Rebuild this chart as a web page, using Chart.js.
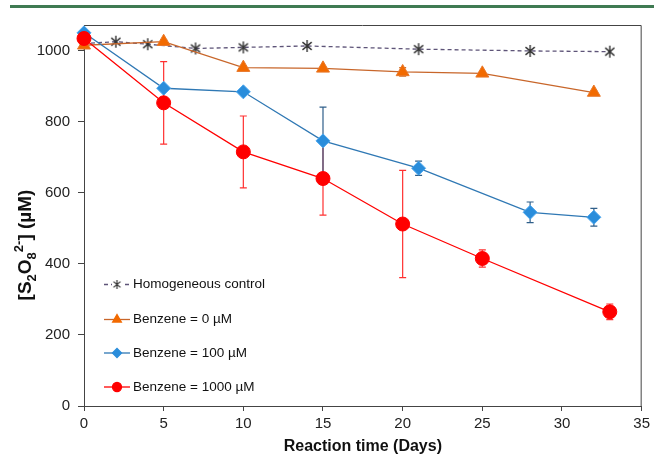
<!DOCTYPE html>
<html><head><meta charset="utf-8">
<script src="https://cdn.jsdelivr.net/npm/chart.js@4.4.1/dist/chart.umd.min.js"></script>
<style>
html,body{margin:0;padding:0;background:#fff;}
#wrap{position:relative;width:654px;height:460px;overflow:hidden;}
#bar{position:absolute;left:10px;top:5px;width:644px;height:3px;background:#3f7a52;}
canvas{position:absolute;left:0;top:0;}
</style></head><body>
<div id="wrap"><canvas id="c" width="654" height="460"></canvas><div id="bar"></div></div>
<script>
// ---- data ----
const controlDays = [0, 2, 4, 7, 10, 14, 21, 28, 33];
const controlValues = [1020, 1025, 1018, 1006, 1009, 1013, 1004, 999, 997];
const b0Days = [0, 5, 10, 15, 20, 25, 32];
const b0Values = [1015, 1025, 952, 950, 940, 936, 882];
const b0Errors = [0, 5, 4, 0, 12, 4, 4];
const b100Days = [0, 5, 10, 15, 21, 28, 32];
const b100Values = [1050, 894, 884, 746, 669, 545, 531];
const b100Errors = [0, 5, 5, 95, 20, 29, 25];
const b1000Days = [0, 5, 10, 15, 20, 25, 33];
const b1000Values = [1034, 853, 715, 640, 512, 415, 265];
const b1000Errors = [0, 116, 101, 103, 151, 24, 22];
const xTicks = [0, 5, 10, 15, 20, 25, 30, 35];
const yTicks = [0, 200, 400, 600, 800, 1000];
const seriesNames = ['Homogeneous control', 'Benzene = 0 µM', 'Benzene = 100 µM', 'Benzene = 1000 µM'];
const xTitle = 'Reaction time (Days)';

const FONT = "'Liberation Sans', Arial, sans-serif";
Chart.defaults.font.family = FONT;

function pts(xs, ys){ return xs.map((d,i)=>({x:d, y:ys[i]})); }

function asterisk(color, r, lw){
  const s = Math.ceil(r*2+4);
  const c = document.createElement('canvas'); c.width = s; c.height = s;
  const g = c.getContext('2d'); g.strokeStyle = color; g.lineWidth = lw;
  const cx = s/2, cy = s/2;
  g.beginPath();
  for (const a of [90, 40, 140]) {
    const t = a*Math.PI/180;
    g.moveTo(cx - r*Math.cos(t), cy - r*Math.sin(t));
    g.lineTo(cx + r*Math.cos(t), cy + r*Math.sin(t));
  }
  g.stroke();
  return c;
}
const starBig = asterisk('#333', 6, 1.4);
const starSmall = asterisk('#333', 4.5, 1.2);

const C_CTRL = '#5e5478';
const C_B0_LINE = '#c8662a', C_B0_FILL = '#f26a00', C_B0_ERR = '#d0702a';
const C_B100_LINE = '#2f78b4', C_B100_FILL = '#2a8ddb', C_B100_ERR = '#2f5f8a';
const C_B1000 = '#ff0000';

const datasets = [
  { label: seriesNames[3], data: pts(b1000Days, b1000Values), errors: b1000Errors, errColor: '#ff3030',
    borderColor: C_B1000, backgroundColor: C_B1000, pointBackgroundColor: C_B1000, pointBorderColor: C_B1000,
    pointStyle: 'circle', pointRadius: 7, borderWidth: 1.3, pointBorderWidth: 1, order: 0 },
  { label: seriesNames[2], data: pts(b100Days, b100Values), errors: b100Errors, errColor: C_B100_ERR,
    borderColor: C_B100_LINE, backgroundColor: C_B100_FILL, pointBackgroundColor: C_B100_FILL, pointBorderColor: '#4aa6ee',
    pointStyle: 'rectRot', pointRadius: 7, borderWidth: 1.3, pointBorderWidth: 1, order: 1 },
  { label: seriesNames[1], data: pts(b0Days, b0Values), errors: b0Errors, errColor: C_B0_ERR,
    borderColor: C_B0_LINE, backgroundColor: C_B0_FILL, pointBackgroundColor: C_B0_FILL, pointBorderColor: '#e8782a',
    pointStyle: 'triangle', pointRadius: 7.5, borderWidth: 1.3, pointBorderWidth: 1, order: 2 },
  { label: seriesNames[0], data: pts(controlDays, controlValues),
    borderColor: C_CTRL, backgroundColor: '#333', borderDash: [4, 3],
    pointStyle: starBig, pointRadius: 6, borderWidth: 1.3, order: 3 }
];
datasets.forEach(d => { d.showLine = true; d.tension = 0; d.clip = false; d.fill = false; });

const errPlugin = {
  id: 'errbars',
  beforeDatasetsDraw(chart){
    const {ctx, scales:{x, y}} = chart;
    const a = chart.chartArea;
    ctx.save();
    ctx.strokeStyle = '#444'; ctx.lineWidth = 1;
    ctx.beginPath();
    ctx.moveTo(a.left, a.top + 0.5); ctx.lineTo(a.right - 0.5, a.top + 0.5); ctx.lineTo(a.right - 0.5, a.bottom);
    ctx.stroke();
    ctx.restore();
    chart.data.datasets.forEach(ds => {
      if (!ds.errors) return;
      ctx.save(); ctx.strokeStyle = ds.errColor; ctx.lineWidth = 1.2;
      ds.data.forEach((p, i) => {
        const e = ds.errors[i]; if (!e) return;
        const px = x.getPixelForValue(p.x), t = y.getPixelForValue(p.y + e), b = y.getPixelForValue(p.y - e);
        ctx.beginPath();
        ctx.moveTo(px, t); ctx.lineTo(px, b);
        ctx.moveTo(px - 3.5, t); ctx.lineTo(px + 3.5, t);
        ctx.moveTo(px - 3.5, b); ctx.lineTo(px + 3.5, b);
        ctx.stroke();
      });
      ctx.restore();
    });
  }
};

const textPlugin = {
  id: 'texts',
  afterDraw(chart){
    const ctx = chart.ctx; const a = chart.chartArea;
    ctx.save();
    ctx.fillStyle = '#111'; ctx.font = 'bold 16px ' + FONT;
    ctx.textAlign = 'center'; ctx.textBaseline = 'middle';
    ctx.fillText(xTitle, (a.left + a.right)/2, 447);
    const parts = [
      ['[S', 0, 19], ['2', 5, 13], ['O', 0, 19], ['8', 5, 13], ['2-', -8, 13], ['] (µM)', 0, 19]
    ];
    let total = 0;
    parts.forEach(p => { ctx.font = 'bold ' + p[2] + 'px ' + FONT; p.w = ctx.measureText(p[0]).width; total += p.w; });
    ctx.translate(24, 245); ctx.rotate(-Math.PI/2);
    ctx.textAlign = 'left'; ctx.textBaseline = 'alphabetic';
    let cx = -total/2;
    parts.forEach(p => { ctx.font = 'bold ' + p[2] + 'px ' + FONT; ctx.fillText(p[0], cx, 7 + p[1]); cx += p.w; });
    ctx.restore();

    ctx.save();
    const xs = 104, xe = 130, xm = 117, tx = 133;
    const ys = [284.5, 319.5, 353, 387];
    ctx.font = '13.5px ' + FONT; ctx.textBaseline = 'middle'; ctx.textAlign = 'left';
    ctx.strokeStyle = C_CTRL; ctx.lineWidth = 1.3; ctx.setLineDash([4, 3]);
    ctx.beginPath(); ctx.moveTo(xs, ys[0]); ctx.lineTo(xe, ys[0]); ctx.stroke(); ctx.setLineDash([]);
    ctx.fillStyle = '#fff'; ctx.fillRect(xm - 5, ys[0] - 5, 10, 10);
    ctx.drawImage(starSmall, xm - starSmall.width/2, ys[0] - starSmall.height/2);
    const others = [
      [C_B0_LINE, C_B0_FILL, 'triangle', 5],
      [C_B100_LINE, C_B100_FILL, 'rectRot', 4.5],
      [C_B1000, C_B1000, 'circle', 4.5]
    ];
    others.forEach((o, i) => {
      const yy = ys[i+1];
      ctx.strokeStyle = o[0]; ctx.lineWidth = 1.3;
      ctx.beginPath(); ctx.moveTo(xs, yy); ctx.lineTo(xe, yy); ctx.stroke();
      ctx.fillStyle = o[1]; ctx.strokeStyle = o[1];
      Chart.helpers.drawPoint(ctx, {pointStyle: o[2], radius: o[3], borderWidth: 1, rotation: 0}, xm, yy);
    });
    ctx.fillStyle = '#111';
    seriesNames.forEach((n, i) => ctx.fillText(n, tx, ys[i]));
    ctx.restore();
  }
};

new Chart(document.getElementById('c'), {
  type: 'scatter',
  data: { datasets },
  options: {
    responsive: false, animation: false, events: [],
    devicePixelRatio: 1,
    layout: { padding: { top: 25, right: 11, left: 0, bottom: 0 } },
    plugins: { legend: { display: false }, tooltip: { enabled: false } },
    scales: {
      x: {
        type: 'linear', min: 0, max: 35,
        afterBuildTicks: s => { s.ticks = xTicks.map(v => ({value: v})); },
        afterFit: s => { s.height = 54; },
        grid: { drawOnChartArea: false, drawTicks: true, tickLength: 5, color: '#444' },
        border: { display: true, color: '#444', width: 1 },
        ticks: { color: '#222', font: { size: 15 }, padding: 4, maxRotation: 0, autoSkip: false,
                 callback: v => String(v) }
      },
      y: {
        type: 'linear', min: 0, max: 1072,
        afterBuildTicks: s => { s.ticks = yTicks.map(v => ({value: v})); },
        afterFit: s => { s.width = 84; },
        grid: { drawOnChartArea: false, drawTicks: true, tickLength: 6, color: '#444' },
        border: { display: true, color: '#444', width: 1 },
        ticks: { color: '#222', font: { size: 15 }, padding: 8, callback: v => String(v) }
      }
    }
  },
  plugins: [errPlugin, textPlugin]
});
</script>
</body></html>
